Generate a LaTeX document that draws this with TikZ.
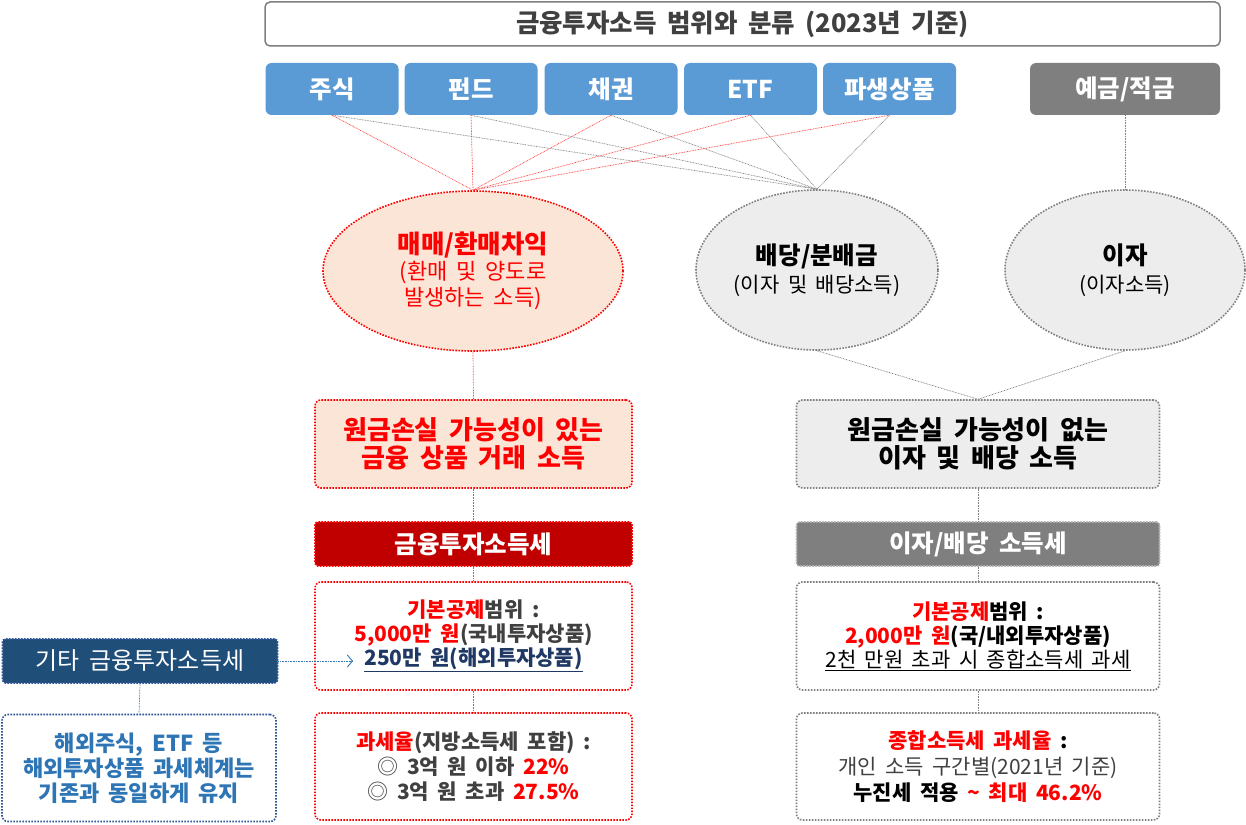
\documentclass[tikz,border=0pt]{standalone}
\usepackage{fontspec}
\setmainfont{Noto Sans CJK KR}[WordSpace=1.8]
\usetikzlibrary{shapes.geometric,arrows.meta}
\definecolor{cblue}{HTML}{5B9BD5}
\definecolor{cgray}{HTML}{7F7F7F}
\definecolor{cred}{HTML}{FF0000}
\definecolor{cdred}{HTML}{C00000}
\definecolor{cnavy}{HTML}{1F4E79}
\definecolor{ctblue}{HTML}{2E75B6}
\definecolor{cpeach}{HTML}{FBE5D6}
\definecolor{clgray}{HTML}{EDEDED}
\definecolor{ctxt}{HTML}{404040}
\definecolor{cnavytxt}{HTML}{1F3864}
\definecolor{cbdot}{HTML}{2F5597}
\newcommand\fsz[2]{\fontsize{#1}{#2}\selectfont}
\tikzset{
  box/.style={rectangle, rounded corners=6pt, inner sep=0pt, align=center},
  reddot/.style={draw=cred, line width=1.6pt, dash pattern=on 1.6pt off 1.4pt},
  graydot/.style={draw=cgray, line width=1.6pt, dash pattern=on 1.6pt off 1.4pt},
  bluedot/.style={draw=cbdot, line width=1.6pt, dash pattern=on 1.6pt off 1.4pt},
  cat/.style={box, fill=cblue, text=white, font=\fsz{24.5}{28}\bfseries, minimum width=133pt, minimum height=52pt},
  ell/.style={ellipse, inner sep=0pt, align=center, minimum height=160pt},
  redline/.style={draw=cred!75, line width=0.7pt, dash pattern=on 0.8pt off 0.8pt},
  grayline/.style={draw=gray, line width=0.7pt, dash pattern=on 0.8pt off 0.8pt},
  blueline/.style={draw=ctblue, line width=0.7pt, dash pattern=on 0.8pt off 0.8pt},
}
\begin{document}
\begin{tikzpicture}[x=1pt,y=-1pt]
\useasboundingbox[fill=white] (0,0) rectangle (1246,824);
% title
\node[box, rounded corners=5pt, draw=cgray, line width=1.5pt, fill=white, text=ctxt,
  minimum width=955pt, minimum height=44pt, font=\fsz{25.5}{28}\bfseries] (title) at (742.5,24)
  {금융투자소득 범위와 분류 (2023년 기준)};
% categories
\node[cat] (c1) at (332,89) {주식};
\node[cat] (c2) at (471,89) {펀드};
\node[cat] (c3) at (611,89) {채권};
\node[cat] (c4) at (750.5,89) {ETF};
\node[cat] (c5) at (889.5,89) {파생상품};
\node[cat, fill=cgray, minimum width=190pt] (c6) at (1125,89) {예금/적금};
% ellipses
\node[ell, fill=cpeach, reddot, minimum width=300pt, text=cred, font=\fsz{22}{26}] (mm) at (473,271)
  {{\fsz{25.5}{28}\bfseries 매매/환매차익}\\(환매 및 양도로\\발생하는 소득)};
\node[ell, fill=clgray, graydot, minimum width=242pt, text=black, font=\fsz{21}{28}] (bd) at (817,270)
  {{\fsz{24.5}{28}\bfseries 배당/분배금}\\(이자 및 배당소득)};
\node[ell, fill=clgray, graydot, minimum width=240pt, text=black, font=\fsz{21}{28}] (ij) at (1125,270)
  {{\fsz{24.5}{28}\bfseries 이자}\\(이자소득)};
% middle boxes
\node[box, fill=cpeach, reddot, minimum width=317pt, minimum height=88pt, text=cred,
  font=\fsz{26}{28}\bfseries] (bl) at (473.5,444) {원금손실 가능성이 있는\\금융 상품 거래 소득};
\node[box, fill=clgray, graydot, minimum width=363pt, minimum height=88pt, text=black,
  font=\fsz{26}{28}\bfseries] (br) at (978,444) {원금손실 가능성이 없는\\이자 및 배당 소득};
% tax boxes
\node[box, rounded corners=3pt, fill=cdred, reddot, minimum width=317pt, minimum height=44pt,
  text=white, font=\fsz{24.5}{28}\bfseries] (tl) at (473.5,544) {금융투자소득세};
\node[box, rounded corners=3pt, fill=cgray, draw=gray!60, line width=1.6pt, dash pattern=on 1.6pt off 1.4pt,
  minimum width=363pt, minimum height=44pt, text=white, font=\fsz{24.5}{28}\bfseries] (tr) at (978,544) {이자/배당 소득세};
% lower left
\node[box, fill=white, reddot, minimum width=317pt, minimum height=108pt, text=ctxt,
  font=\fsz{21}{24}\bfseries] (l3) at (473.5,636)
  {{\color{cred}기본공제}범위 :\\{\color{cred}5,000만 원}(국내투자상품)\\
   {\color{cnavytxt}\underline{250만 원(해외투자상품)}}};
\node[box, fill=white, reddot, minimum width=317pt, minimum height=107pt, text=ctxt,
  font=\fsz{21}{25}\bfseries] (l4) at (473.5,766.5)
  {{\color{cred}과세율}(지방소득세 포함) :\\{\mdseries ◎} 3억 원 이하 {\color{cred}22\%}\\
   {\mdseries ◎} 3억 원 초과 {\color{cred}27.5\%}};
% lower right
\node[box, fill=white, graydot, minimum width=363pt, minimum height=108pt, text=black,
  font=\fsz{21}{24}] (r3) at (978,636)
  {{\bfseries{\color{cred}기본공제}범위 :}\\{\bfseries{\color{cred}2,000만 원}(국/내외투자상품)}\\
   \underline{2천 만원 초과 시 종합소득세 과세}};
\node[box, fill=white, graydot, minimum width=363pt, minimum height=107pt, text=black,
  font=\fsz{21}{26}] (r4) at (978,766.5)
  {{\bfseries{\color{cred}종합소득세 과세율} :}\\{\color{ctxt}개인 소득 구간별(2021년 기준)}\\
   {\bfseries 누진세 적용 {\color{cred}\textasciitilde{} 최대 46.2\%}}};
% far left
\node[box, rounded corners=3pt, fill=cnavy, draw=cbdot, line width=1.6pt, dash pattern=on 1.6pt off 1.4pt,
  minimum width=275pt, minimum height=44pt, text=white, font=\fsz{24}{28}] (gt) at (140,661) {기타 금융투자소득세};
\node[box, fill=white, bluedot, minimum width=274pt, minimum height=107pt, text=ctblue,
  font=\fsz{22}{25}\bfseries] (hw) at (139,768) {해외주식, ETF 등\\해외투자상품 과세체계는\\기존과 동일하게 유지};
\coordinate (ar) at (353,661);
% connectors
\foreach \c in {c1,c2,c3,c4,c5}{
  \draw[grayline] (\c.south) -- (bd.north);
}
\foreach \c in {c1,c2,c3,c4,c5}{
  \draw[redline] (\c.south) -- (mm.north);
}
\draw[grayline] (c6.south) -- (ij.north);
\draw[redline] (mm.south) -- (bl.north);
\draw[redline] (bl.south) -- (tl.north);
\draw[redline] (tl.south) -- (l3.north);
\draw[redline] (l3.south) -- (l4.north);
\draw[grayline] (bd.south) -- (br.north);
\draw[grayline] (ij.south) -- (br.north);
\draw[grayline] (br.south) -- (tr.north);
\draw[grayline] (tr.south) -- (r3.north);
\draw[grayline] (r3.south) -- (r4.north);
\draw[blueline] (gt.south) -- (hw.north);
\draw[blueline, -{Straight Barb[length=5pt,width=12pt,line width=0.9pt]}] (gt.east) -- (ar);
\end{tikzpicture}
\end{document}
